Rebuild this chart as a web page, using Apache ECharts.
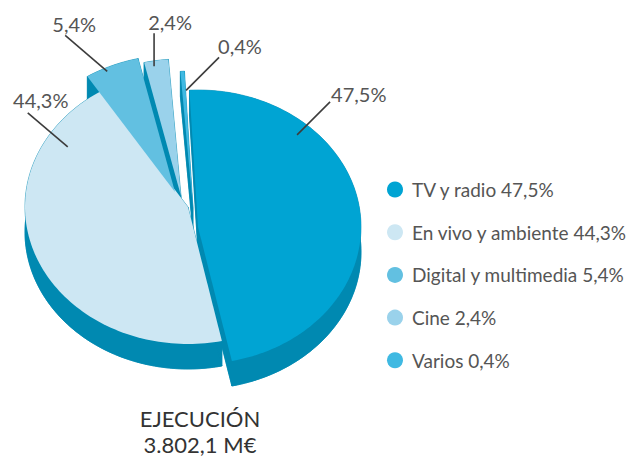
<!DOCTYPE html>
<html>
<head>
<meta charset="utf-8">
<script src="https://cdn.jsdelivr.net/npm/echarts@6/dist/echarts.min.js"></script>
<style>
  html, body { margin: 0; padding: 0; background: #ffffff; }
  #chart { width: 637px; height: 457px; }
</style>
</head>
<body>
<div id="chart"></div>
<script>
// Budget execution by area (percent of total)
const categories = ['TV y radio', 'En vivo y ambiente', 'Digital y multimedia', 'Cine', 'Varios'];
const shares = [47.5, 44.3, 5.4, 2.4, 0.4];
const captionLines = ['EJECUCIÓN', '3.802,1 M€'];

const topColors = ['#00a4d3', '#cde7f3', '#62c0e1', '#9ad2eb', '#3fb9e2'];
const sideColor = '#0089b1';
const textColor = '#555555';
const fontFamily = 'Lato, "Noto Sans", sans-serif';

// Tilted pie: centre, horizontal/vertical radii, extrusion depth, first slice angle
const pie = { cx: 192, cy: 215, rx: 163, ry: 137, depth: 25, startDeg: -3 };
// Per-slice explosion shift (px)
const explode = [[6, 12], [-4, -8], [-17, -23], [-11, -19], [1, -7]];
// Label leader: anchor angle/radius in the pie frame, leader vector, text offset from leader end
const labelLayout = [
  { ang: 47.8,  r: 0.87,  lead: [33, -33],  txt: [1, -8],   align: 'left' },
  { ang: -56.9, r: 0.91,  lead: [-40, -34], txt: [13, -13], align: 'center' },
  { ang: -26.4, r: 1.17,  lead: [-42, -36], txt: [9, -11],  align: 'center' },
  { ang: -12.1, r: 1.11,  lead: [0, -33],   txt: [16, -11], align: 'center' },
  { ang: -2.3,  r: 0.91,  lead: [33, -33],  txt: [-1, -11], align: 'left' }
];

const sum = shares.reduce((a, b) => a + b, 0);
const fmtPct = v => v.toFixed(1).replace('.', ',') + '%';
const rad = d => d * Math.PI / 180;

function renderSlice(params, api) {
  const i = params.seriesIndex;
  const v = api.value(0);
  let before = 0;
  for (let k = 0; k < i; k++) before += shares[k];
  const a0 = pie.startDeg + before / sum * 360;
  const a1 = a0 + v / sum * 360;
  const ox = pie.cx + explode[i][0];
  const oy = pie.cy + explode[i][1];
  const P = (deg, r) => [ox + pie.rx * r * Math.sin(rad(deg)), oy - pie.ry * r * Math.cos(rad(deg))];
  const down = p => [p[0], p[1] + pie.depth];
  const n = Math.max(2, Math.ceil((a1 - a0) / 1.5));
  const arc = [];
  for (let j = 0; j <= n; j++) arc.push(P(a0 + (a1 - a0) * j / n, 1));
  const V = [ox, oy];
  const topFace = [V].concat(arc);
  const side = { fill: sideColor, stroke: sideColor, lineWidth: 0.6 };

  const children = [
    { type: 'polygon', z2: 1, shape: { points: topFace.map(down) }, style: side },
    { type: 'polygon', z2: 1, shape: { points: arc.concat(arc.slice().reverse().map(down)) }, style: side },
    { type: 'polygon', z2: 1, shape: { points: [V, arc[0], down(arc[0]), down(V)] }, style: side },
    { type: 'polygon', z2: 1, shape: { points: [V, arc[n], down(arc[n]), down(V)] }, style: side },
    { type: 'polygon', z2: 10, shape: { points: topFace }, style: { fill: api.visual('color') } }
  ];

  // value label with leader line
  const L = labelLayout[i];
  const s = [pie.cx + pie.rx * L.r * Math.sin(rad(L.ang)), pie.cy - pie.ry * L.r * Math.cos(rad(L.ang))];
  const e = [s[0] + L.lead[0], s[1] + L.lead[1]];
  children.push({
    type: 'line', z2: 20,
    shape: { x1: s[0], y1: s[1], x2: e[0], y2: e[1] },
    style: { stroke: '#3c3c3c', lineWidth: 1.6 }
  });
  children.push({
    type: 'text', z2: 20,
    x: e[0] + L.txt[0], y: e[1] + L.txt[1],
    style: {
      text: fmtPct(v), fill: textColor, fontSize: 20, fontFamily: fontFamily, fontWeight: 400,
      align: L.align, verticalAlign: 'middle'
    }
  });
  return { type: 'group', children: children };
}

const series = categories.map((name, i) => ({
  type: 'custom',
  name: name,
  coordinateSystem: 'none',
  silent: true,
  itemStyle: { color: topColors[i] },
  data: [[shares[i]]],
  renderItem: renderSlice
}));

const chart = echarts.init(document.getElementById('chart'), null, { renderer: 'svg' });
chart.setOption({
  animation: false,
  backgroundColor: '#ffffff',
  legend: {
    orient: 'vertical',
    left: 382,
    top: 175,
    icon: 'circle',
    itemWidth: 16,
    itemHeight: 16,
    itemGap: 23.7,
    selectedMode: false,
    data: categories,
    formatter: name => name + ' ' + fmtPct(shares[categories.indexOf(name)]),
    textStyle: { fontSize: 19, color: textColor, fontFamily: fontFamily, fontWeight: 400, lineHeight: 18, padding: [0, 0, 0, 4] }
  },
  graphic: [
    { type: 'text', x: 200, y: 418, style: { text: captionLines[0], align: 'center', verticalAlign: 'middle', fontSize: 22, fontFamily: fontFamily, fontWeight: 400, fill: '#333333' } },
    { type: 'text', x: 200, y: 444, style: { text: captionLines[1], align: 'center', verticalAlign: 'middle', fontSize: 22, fontFamily: fontFamily, fontWeight: 400, fill: '#333333' } }
  ],
  series: series
});
</script>
</body>
</html>
